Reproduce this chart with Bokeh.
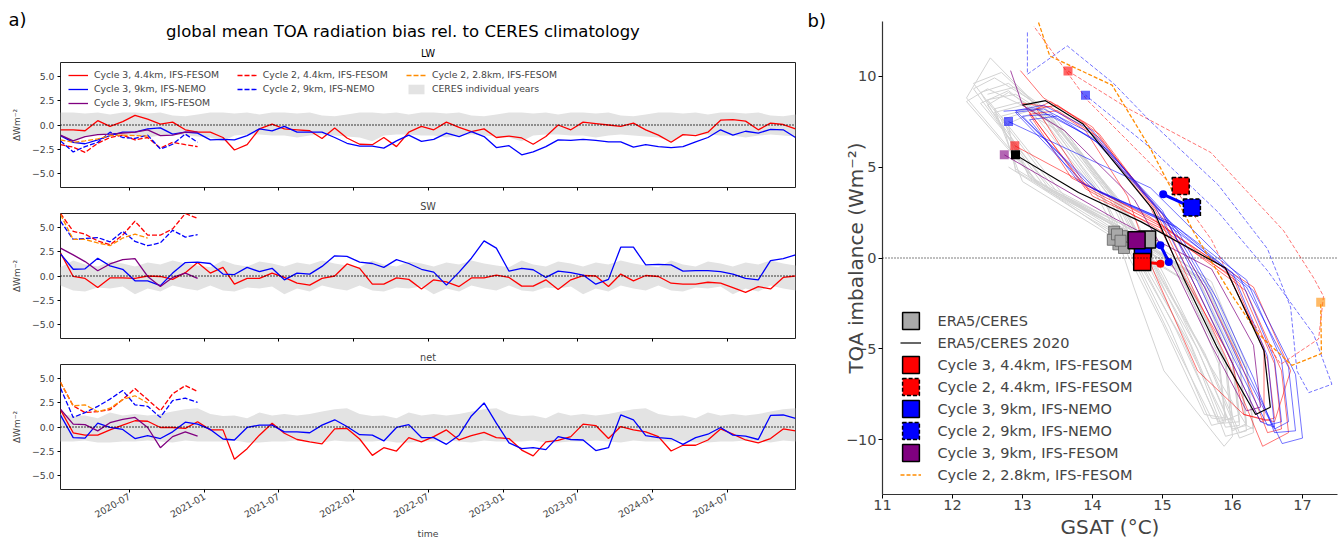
from datetime import datetime
from math import pi
from bokeh.plotting import figure
from bokeh.layouts import row, column
from bokeh.models import (Range1d, Span, Legend, LegendItem, MonthsTicker,
                          DatetimeTickFormatter, CustomJSTickFormatter, FixedTicker)
from bokeh.core.properties import value
from bokeh.embed import file_html
from bokeh.resources import INLINE

FONT = "DejaVu Sans"

# ---------------- left panel: monthly TOA bias time series ----------------
MONTHS = [datetime(2020 + k // 12, k % 12 + 1, 15) for k in range(60)]

LW_C3_44 = [-0.5, -0.5, -0.6, 0.45, -0.15, 0.35, 1.0, 0.6, 0.1, 0.3, -0.5, -0.75, -0.75, -1.3, -2.6, -2.05,
            -0.4, 0.1, -0.4, -0.5, -0.6, -1.4, -0.3, -1.35, -2.0, -2.05, -1.3, -2.25,
            -0.75, -0.15, -0.5, 0.3, -0.25, -0.7, -0.4, -1.3, -1.15, -1.35, -2.0, -1.2, 0.0, -0.5, 0.3, 0.15,
            0.0, -0.15, 0.2, -0.5, -1.05, -1.8, -1.0, -1.1, -0.75, 0.5, 0.55, 0.4, -0.5, 0.2, 0.05, -0.4]
LW_C3_9N = [-1.1, -1.8, -1.95, -1.55, -1.1, -0.75, -0.75, -0.4, -0.3, -0.95, -0.75, -0.85, -1.55, -1.5,
            -1.55, -1.1, -0.4, -0.6, -0.15, -0.75, -0.75, -0.75, -1.3, -1.9, -2.2, -2.2, -2.4, -1.65,
            -1.05, -1.7, -1.5, -0.85, -1.2, -0.7, -1.2, -2.35, -2.15, -3.1, -2.8, -2.25, -1.55, -1.6, -1.5,
            -1.6, -1.75, -1.75, -2.3, -2.05, -2.25, -2.35, -2.25, -1.75, -1.3, -0.5, -1.05, -0.65, -0.85,
            -0.45, -0.5, -1.3]
LW_C3_9F = [-1.05, -1.65, -1.2, -1.0, -0.95, -0.85, -0.75, -0.5, -1.1, -1.05, -0.75, -0.75]
LW_C2_44 = [-2.05, -2.3, -2.85, -1.9, -1.3, -1.05, -1.55, -1.3, -2.4, -1.8, -2.05, -2.25]
LW_C2_9N = [-1.65, -2.8, -2.25, -1.8, -0.75, -1.3, -1.4, -1.05, -2.5, -2.0, -0.95, -1.8]
LW_C2_28 = [-1.55, -1.8, -1.65, -1.45, -1.1, -1.05, -1.1, -1.15]

SW_C3_44 = [2.4, -0.05, -0.25, -1.2, -0.2, -0.2, -0.25, 0.0, -0.05, -0.35, 0.35, 1.4, 0.3, 0.9, -0.85, -0.25,
            -0.25, 0.3, -0.15, -0.75, -0.95, -0.25, 0.0, 1.25, 0.8, -0.85, -0.85, -0.2,
            -0.35, -1.35, -0.4, -0.6, -1.1, -0.2, -0.2, 0.1, -0.15, -1.05, -1.05, -0.4, -1.4, -0.4, 0.05,
            0.0, -1.1, 0.2, -0.5, 0.05, -0.05, -0.75, -0.85, -0.85, -0.65, -0.75, -1.2, -1.7, -1.1, -1.35,
            -0.15, 0.0]
SW_C3_9N = [2.3, 0.7, 0.75, 1.85, 1.05, 0.7, -0.5, -0.5, -1.0, 0.3, 1.4, 1.45, 1.3, 0.2, 0.15, 0.9, 0.45, 0.8,
            -0.4, 0.3, 0.2, 1.0, 2.1, 2.05, 1.45, 1.3, 0.9, 1.7,
            1.3, 0.7, 0.4, -0.95, 0.4, 1.85, 3.65, 2.9, 0.5, 0.8, 0.65, -0.15, 0.5, 0.35, 0.1, -0.85, -0.35,
            3.0, 3.0, 1.15, 1.2, 1.15, 0.5, 0.55, 0.55, 0.45, 0.2, -0.25, -0.4, 1.6, 1.8, 2.2]
SW_C3_9F = [2.9, 2.2, 1.5, 0.55, 1.25, 1.7, 1.8, -0.05, -1.1, -0.15, 0.3, -0.25]
SW_C2_44 = [6.5, 4.65, 4.35, 3.65, 3.25, 4.25, 5.7, 4.25, 4.25, 4.9, 6.5, 6.0]
SW_C2_9N = [5.7, 3.8, 3.9, 4.0, 3.55, 4.65, 3.6, 3.15, 3.45, 4.75, 4.05, 4.3]
SW_C2_28 = [6.4, 3.8, 3.8, 3.45, 3.15, 3.95, 4.35, 3.95]

NET_C3_44 = [1.8, -0.6, -0.85, -0.85, -0.3, 0.2, 0.65, 0.6, -0.05, -0.05, -0.15, 0.55, -0.3, -0.3, -3.35,
             -2.25, -0.85, 0.4, -0.65, -1.3, -1.55, -1.75, -0.2, -0.15, -1.25, -2.95, -2.15, -2.5,
             -1.1, -1.55, -1.0, -0.3, -1.35, -0.9, -0.55, -1.1, -1.2, -2.4, -3.0, -1.55, -1.4, -1.0, 0.3,
             0.15, -1.2, 0.05, -0.3, -0.5, -1.0, -2.5, -1.9, -1.9, -1.35, -0.2, -0.75, -1.35, -1.65, -1.2,
             -0.2, -0.4]
NET_C3_9N = [1.25, -1.1, -1.15, 0.4, -0.05, -0.25, -1.2, -0.9, -1.2, -0.5, 0.5, 0.3, -0.25, -1.25, -1.35,
             -0.05, 0.2, 0.2, -0.5, -0.5, -0.6, 0.2, 0.75, 0.05, -0.8, -0.85, -1.45, -0.05,
             0.25, -1.1, -1.1, -1.8, -0.85, 1.15, 2.5, 0.4, -1.65, -2.25, -2.15, -2.35, -1.0, -1.3, -1.35,
             -2.45, -2.15, 1.25, 0.75, -0.9, -1.1, -1.2, -1.8, -1.1, -0.75, -0.05, -0.85, -0.95, -1.3, 1.2,
             1.25, 0.9]
NET_C3_9F = [1.85, 0.3, 0.25, -0.4, 0.45, 0.8, 1.0, -0.05, -2.15, -1.0, -0.5, -0.95]
NET_C2_44 = [4.65, 2.2, 1.5, 1.6, 1.8, 2.85, 4.0, 2.85, 1.7, 3.45, 4.3, 3.7]
NET_C2_9N = [4.05, 1.0, 1.5, 2.15, 2.9, 3.8, 2.3, 2.15, 1.0, 2.75, 3.0, 2.55]
NET_C2_28 = [4.65, 2.2, 2.3, 1.6, 1.95, 2.85, 3.25, 2.5]

# CERES individual-year envelope (Jan..Dec), same every year
LW_HI = [1.3, 1.3, 1.2, 1.3, 1.1, 1.3, 1.3, 1.2, 1.3, 1.0, 0.9, 1.1]
LW_LO = [-1.3, -1.7, -1.1, -1.0, -1.0, -1.1, -1.1, -1.3, -1.1, -1.0, -1.1, -1.2]
SW_HI = [0.9, 1.6, 1.2, 1.0, 1.5, 1.3, 1.0, 1.4, 1.2, 1.6, 1.3, 1.1]
SW_LO = [-1.0, -1.5, -1.6, -1.2, -1.3, -1.1, -1.9, -1.3, -1.6, -1.0, -1.3, -1.5]
NET_HI = [1.35, 1.15, 1.2, 0.9, 1.5, 1.2, 1.35, 1.2, 1.35, 1.6, 1.85, 1.95]
NET_LO = [-1.5, -1.5, -1.4, -1.6, -1.6, -1.5, -1.5, -1.4, -1.5, -1.6, -1.4, -1.5]

BIAS_TICKS = [-5, -2.5, 0, 2.5, 5]

# ---------------- right panel: GSAT vs TOA imbalance ----------------
GREY_X = [[12.5, 12.9, 13.4, 14.3, 14.8, 15.3, 15.9, 16.1, 16.0, 15.5, 14.3, 13.3],
          [12.2, 12.54, 13.1, 14.1, 14.6, 15.1, 15.7, 15.9, 15.8, 15.3, 14.1, 13.0],
          [12.6, 13.0, 13.5, 14.4, 14.9, 15.5, 16.0, 16.2, 16.1, 15.6, 14.4, 13.4],
          [12.4, 12.8, 13.3, 14.2, 14.59, 15.02, 15.88, 16.0, 15.9, 15.4, 14.2, 13.1],
          [12.7, 13.1, 13.6, 14.5, 15.0, 15.6, 16.1, 16.3, 16.2, 15.7, 14.5, 13.5],
          [12.3, 12.7, 13.2, 14.2, 14.7, 15.2, 15.8, 16.0, 15.9, 15.3, 14.0, 12.9],
          [12.8, 13.1, 13.6, 14.6, 15.1, 15.6, 16.2, 16.3, 16.2, 15.7, 14.6, 13.6],
          [12.5, 12.9, 13.4, 14.3, 14.8, 15.4, 15.9, 16.2, 16.1, 15.5, 14.3, 13.2],
          [12.4, 12.8, 13.3, 14.3, 14.7, 15.3, 15.8, 16.1, 16.0, 15.4, 14.2, 13.1],
          [12.6, 13.0, 13.5, 14.4, 15.0, 15.5, 16.0, 16.2, 16.1, 15.6, 14.4, 13.3],
          [12.3, 12.6, 13.2, 14.1, 14.6, 15.1, 15.7, 16.0, 15.9, 15.3, 14.1, 12.9],
          [12.7, 13.1, 13.6, 14.5, 15.0, 15.6, 16.1, 16.3, 16.2, 15.6, 14.5, 13.4],
          [12.5, 12.8, 13.4, 14.4, 14.9, 15.4, 15.9, 16.1, 16.0, 15.5, 14.3, 13.2],
          [12.2, 12.5, 13.1, 14.0, 14.5, 15.0, 15.6, 15.9, 15.8, 15.2, 13.9, 12.8]]
GREY_Y = [[9.0, 9.4, 8.0, 3.4, -0.4, -4.3, -8.9, -8.6, -5.4, -1.0, 1.8, 3.8],
          [8.8, 11.0, 8.8, 3.8, 0.0, -3.8, -9.2, -9.0, -5.8, -1.2, 1.6, 4.2],
          [8.2, 8.6, 7.2, 2.8, -0.9, -5.0, -9.5, -9.1, -5.6, -1.0, 1.9, 3.9],
          [8.5, 9.2, 7.6, 3.0, -1.6, -6.2, -10.35, -9.8, -6.0, -1.4, 1.5, 4.4],
          [7.8, 8.2, 7.0, 2.5, -1.2, -5.2, -9.6, -9.3, -5.9, -1.3, 1.7, 3.6],
          [9.6, 10.2, 8.4, 3.6, -0.3, -4.0, -9.0, -8.8, -5.5, -0.8, 2.2, 4.8],
          [7.4, 7.9, 6.8, 2.2, -1.5, -5.4, -9.2, -9.4, -6.2, -1.6, 1.3, 3.4],
          [8.7, 9.0, 7.8, 3.1, -0.8, -4.8, -9.8, -9.5, -6.0, -1.1, 1.8, 4.1],
          [9.1, 9.6, 8.1, 3.3, -0.5, -4.6, -9.1, -9.0, -5.7, -1.0, 2.0, 4.5],
          [8.0, 8.4, 7.3, 2.9, -1.0, -5.0, -9.4, -9.2, -5.8, -1.2, 1.6, 4.0],
          [9.3, 9.9, 8.5, 3.6, -0.2, -4.2, -8.8, -8.9, -5.6, -0.9, 2.1, 4.9],
          [7.6, 8.1, 7.0, 2.4, -1.3, -5.3, -9.9, -9.6, -6.1, -1.5, 1.4, 3.7],
          [8.4, 9.1, 7.7, 3.0, -0.7, -4.7, -9.3, -9.2, -5.9, -1.1, 1.9, 4.2],
          [8.6, 9.3, 8.2, 3.9, 0.2, -3.6, -8.6, -8.8, -5.3, -0.6, 2.3, 5.0]]

ERA_2020_X = [13.0, 13.33, 13.87, 14.87, 15.3, 15.78, 16.33, 16.54, 16.45, 15.9, 14.69, 13.8, 12.9]
ERA_2020_Y = [8.4, 8.65, 7.35, 2.63, -1.1, -4.9, -8.6, -8.2, -5.1, -0.55, 2.0, 3.6, 5.67]

C3_44_X = [[12.97, 13.3, 13.9, 14.8, 15.3, 15.9, 16.4, 16.6, 16.5, 16.0, 14.8, 13.9],
           [13.1, 13.4, 14.0, 14.9, 15.4, 15.9, 16.43, 16.8, 16.7, 16.19, 15.0, 14.0],
           [13.2, 13.5, 14.1, 15.0, 15.5, 16.0, 16.16, 16.6, 16.83, 16.3, 15.0, 13.9],
           [13.0, 13.4, 13.9, 14.5, 14.87, 15.5, 16.16, 16.45, 16.45, 15.9, 14.8, 13.7],
           [13.1, 13.5, 14.1, 15.0, 15.6, 16.1, 16.5, 16.7, 16.6, 16.1, 15.0, 12.89]]
C3_44_Y = [[10.3, 8.8, 7.4, 3.0, -1.0, -5.0, -9.0, -8.8, -5.6, -1.0, 1.9, 3.8],
           [8.0, 8.6, 7.2, 2.6, -1.4, -5.4, -10.35, -9.6, -6.2, -1.8, 1.6, 3.4],
           [8.2, 8.4, 6.8, 2.2, -1.8, -5.8, -8.6, -9.0, -6.2, -1.6, 1.7, 3.9],
           [8.5, 8.3, 7.0, 3.4, -0.7, -6.2, -8.6, -8.9, -4.9, -0.6, 2.3, 4.4],
           [7.9, 8.1, 6.6, 2.4, -1.6, -5.6, -9.6, -9.4, -5.8, -1.4, 1.8, 6.17]]

C3_9N_X = [[12.73, 13.2, 14.0, 15.0, 15.6, 16.1, 16.6, 16.8, 16.7, 16.2, 15.1, 14.0],
           [13.0, 13.4, 14.1, 15.1, 15.7, 16.2, 16.71, 17.0, 16.9, 16.3, 15.2, 14.1],
           [12.9, 13.3, 14.0, 14.9, 15.4, 15.9, 16.4, 16.6, 16.5, 16.0, 14.9, 13.8],
           [13.1, 13.5, 14.2, 15.2, 15.8, 16.3, 16.6, 16.9, 16.8, 16.2, 15.1, 13.9],
           [12.9, 13.3, 14.0, 15.0, 15.5, 16.0, 16.5, 16.7, 16.6, 16.1, 14.83, 12.8]]
C3_9N_Y = [[8.07, 8.2, 6.6, 2.4, -1.6, -5.8, -9.4, -9.0, -5.6, -1.2, 2.0, 3.8],
           [7.8, 7.9, 6.3, 2.0, -2.0, -6.2, -10.2, -9.9, -6.4, -1.8, 1.7, 3.6],
           [8.1, 8.4, 7.0, 2.8, -1.0, -5.0, -9.0, -9.3, -5.4, -0.8, 2.3, 4.2],
           [7.6, 7.8, 6.0, 1.6, -2.4, -6.6, -9.6, -9.5, -6.0, -1.6, 1.9, 4.0],
           [8.0, 8.2, 6.8, 2.6, -1.3, -5.4, -9.2, -9.0, -5.6, -1.0, 3.85, 7.5]]

C3_9F_X = [12.83, 13.0, 13.6, 14.6, 15.2, 15.7, 16.2, 16.4, 16.3, 15.7, 14.3, 12.74]
C3_9F_Y = [10.3, 8.4, 7.0, 3.2, -0.8, -4.8, -8.4, -8.2, -4.8, -0.6, 2.2, 5.67]

C2_44_X = [13.65, 14.54, 15.69, 16.73, 17.16, 17.3, 17.23, 16.69, 16.2, 15.7, 15.16, 13.92, 13.16]
C2_44_Y = [10.28, 8.15, 5.8, 1.5, -1.1, -2.1, -4.45, -5.84, -3.0, 1.0, 3.9, 8.7, 12.75]

C2_9N_X = [13.07, 13.07, 13.64, 14.3, 14.83, 15.8, 16.5, 16.83, 16.92, 17.09, 17.42, 17.16, 16.5, 15.8,
           14.83, 13.9]
C2_9N_Y = [12.4, 10.1, 11.66, 9.6, 7.5, 4.0, 0.5, -2.7, -6.2, -7.4, -6.94, -4.2, -0.7, 2.5, 6.05, 8.95]

C2_28_X = [13.12, 13.39, 14.28, 14.83, 15.45, 15.95, 16.35, 16.85, 17.27, 17.26]
C2_28_Y = [14.2, 11.1, 9.5, 6.0, 1.4, -1.8, -4.1, -5.9, -5.25, -2.43]

# annual means
ERA_YEARS_X = [14.31, 14.37, 14.42, 14.29, 14.45, 14.35, 14.40]
ERA_YEARS_Y = [1.45, 0.75, 1.2, 1.0, 0.55, 1.3, 0.95]
ERA_MEAN = (14.78, 1.02)
C3_44_MEAN_X = [14.97, 14.71]
C3_44_MEAN_Y = [-0.31, -0.22]
C3_9N_MEAN_X = [15.09, 14.97, 14.72]
C3_9N_MEAN_Y = [-0.22, 0.7, 0.52]
C2_9N_MEAN_X = [15.01, 15.42]
C2_9N_MEAN_Y = [3.5, 2.78]
C2_44_MEAN = (15.26, 3.96)
C3_9F_MEAN = (14.63, 0.98)

GSAT_TICKS = [11, 12, 13, 14, 15, 16, 17]
TOA_TICKS = [-10, -5, 0, 5, 10]


def flat(loops):
    return [v for loop in loops for v in loop]


def minus_fmt(dec):
    return CustomJSTickFormatter(
        code="return (tick < 0 ? '\u2212' : '') + Math.abs(tick).toFixed(%d);" % dec)


def style_legend(leg, fs, gw, gh, standoff, spacing):
    leg.label_text_font = FONT
    leg.label_text_font_size = fs
    leg.glyph_width = gw
    leg.glyph_height = gh
    leg.label_height = gh
    leg.label_standoff = standoff
    leg.spacing = spacing
    leg.padding = 0
    leg.margin = 0
    leg.border_line_alpha = 0
    leg.background_fill_alpha = 0


SMALL = "9.3px"
DASH = "5 2"

# ---------------- header: panel letters, overall title and the LW title ----------------
head = figure(width=840, height=62, title=None, x_range=Range1d(0, 840), y_range=Range1d(62, 0),
              output_backend="svg", toolbar_location=None, x_axis_location=None,
              y_axis_location=None, min_border=0, min_border_left=0, min_border_right=0,
              min_border_top=0, min_border_bottom=0)
head.outline_line_color = None
head.grid.visible = False
head.text(x=[8, 807], y=[18.5, 20.0], text=["a)", "b)"], text_font=value(FONT),
          text_font_size="18px", text_baseline="middle", text_align="left")
head.text(x=[402.5], y=[31.0], text=["global mean TOA radiation bias rel. to CERES climatology"],
          text_font=value(FONT), text_font_size="16.5px", text_baseline="middle",
          text_align="center")
head.text(x=[427.5], y=[52.5], text=["LW"], text_font=value(FONT), text_font_size="9.7px",
          text_baseline="middle", text_align="center")

xr = Range1d(MONTHS[0], MONTHS[-1])


def make_panel(title, height, top, bottom, c3_44, c3_9n, c3_9f, c2_44, c2_9n, c2_28, hi, lo, last):
    p = figure(width=840, height=height, x_axis_type="datetime", x_range=xr,
               y_range=Range1d(-6.5, 6.5), output_backend="svg", toolbar_location=None,
               min_border_left=60, min_border_right=45, min_border_top=top, min_border_bottom=bottom,
               title=title)
    if title is not None:
        p.title.align = "center"
        p.title.text_font = FONT
        p.title.text_font_size = "9.7px"
        p.title.text_font_style = "normal"
        p.title.standoff = 4
    p.grid.visible = False
    p.outline_line_color = "#222222"
    p.outline_line_width = 1
    p.axis.axis_line_color = None
    p.axis.major_tick_out = 3
    p.axis.major_tick_in = 0
    p.axis.minor_tick_line_color = None
    p.axis.major_label_text_font = FONT
    p.axis.major_label_text_font_size = SMALL
    p.yaxis.major_label_standoff = 3
    p.yaxis.ticker = FixedTicker(ticks=BIAS_TICKS)
    p.yaxis.formatter = minus_fmt(1)
    p.yaxis.axis_label = "\u0394Wm\u207b\u00b2"
    p.yaxis.axis_label_text_font = FONT
    p.yaxis.axis_label_text_font_size = "9px"
    p.yaxis.axis_label_text_font_style = "normal"
    p.yaxis.axis_label_standoff = 7
    p.xaxis.ticker = MonthsTicker(months=[0, 6])
    p.xaxis.formatter = DatetimeTickFormatter(months="%Y-%m", years="%Y-%m", days="%Y-%m")
    if last:
        p.xaxis.major_label_orientation = pi / 6
        p.xaxis.major_label_standoff = 3
        p.xaxis.axis_label = "time"
        p.xaxis.axis_label_text_font = FONT
        p.xaxis.axis_label_text_font_size = SMALL
        p.xaxis.axis_label_text_font_style = "normal"
        p.xaxis.axis_label_standoff = 4
    else:
        p.xaxis.major_label_text_font_size = "0px"
        p.xaxis.major_label_text_color = None
        p.xaxis.major_label_text_alpha = 0
        p.xaxis.major_label_standoff = 0

    band = p.varea(x=MONTHS, y1=lo * 5, y2=hi * 5, fill_color="#e3e3e3")
    p.add_layout(Span(location=0, dimension="width", line_color="black", line_dash="1 2",
                      line_width=1.3))
    r1 = p.line(MONTHS, c3_44, line_color="red", line_width=1.3)
    r2 = p.line(MONTHS, c3_9n, line_color="blue", line_width=1.3)
    r3 = p.line(MONTHS[:len(c3_9f)], c3_9f, line_color="purple", line_width=1.3)
    r4 = p.line(MONTHS[:len(c2_44)], c2_44, line_color="red", line_width=1.3, line_dash=DASH)
    r5 = p.line(MONTHS[:len(c2_9n)], c2_9n, line_color="blue", line_width=1.3, line_dash=DASH)
    r6 = p.line(MONTHS[:len(c2_28)], c2_28, line_color="darkorange", line_width=1.3, line_dash=DASH)
    return p, (r1, r2, r3, r4, r5, r6, band)


p1, rs = make_panel(None, 129, 0, 4, LW_C3_44, LW_C3_9N, LW_C3_9F, LW_C2_44, LW_C2_9N, LW_C2_28,
                    LW_HI, LW_LO, False)
p2, _ = make_panel("SW", 151, 22, 4, SW_C3_44, SW_C3_9N, SW_C3_9F, SW_C2_44, SW_C2_9N, SW_C2_28,
                   SW_HI, SW_LO, False)
p3, _ = make_panel("net", 202, 22, 55, NET_C3_44, NET_C3_9N, NET_C3_9F, NET_C2_44, NET_C2_9N, NET_C2_28,
                   NET_HI, NET_LO, True)

r1, r2, r3, r4, r5, r6, band = rs
leg_a = Legend(items=[LegendItem(label="Cycle 3, 4.4km, IFS-FESOM", renderers=[r1]),
                      LegendItem(label="Cycle 3, 9km, IFS-NEMO", renderers=[r2]),
                      LegendItem(label="Cycle 3, 9km, IFS-FESOM", renderers=[r3])],
               location=(8, 78.3))
leg_b = Legend(items=[LegendItem(label="Cycle 2, 4.4km, IFS-FESOM", renderers=[r4]),
                      LegendItem(label="Cycle 2, 9km, IFS-NEMO", renderers=[r5])],
               location=(176.7, 92.3))
leg_c = Legend(items=[LegendItem(label="Cycle 2, 2.8km, IFS-FESOM", renderers=[r6]),
                      LegendItem(label="CERES individual years", renderers=[band])],
               location=(346, 92.3))
for lg in (leg_a, leg_b, leg_c):
    style_legend(lg, SMALL, 20, 12, 6, 2)
    p1.add_layout(lg, "center")

# ---------------- right panel ----------------
q = figure(width=501, height=544, x_range=Range1d(11, 17.5), y_range=Range1d(-13, 13),
           output_backend="svg", toolbar_location=None,
           min_border_left=42, min_border_right=4, min_border_top=21, min_border_bottom=50)
q.outline_line_color = None
q.grid.visible = False
q.axis.axis_line_color = "#333333"
q.axis.axis_line_width = 1.2
q.axis.major_tick_out = 4
q.axis.major_tick_in = 0
q.axis.minor_tick_line_color = None
q.axis.major_label_text_font = FONT
q.axis.major_label_text_font_size = "14.5px"
q.xaxis.ticker = FixedTicker(ticks=GSAT_TICKS)
q.yaxis.ticker = FixedTicker(ticks=TOA_TICKS)
q.yaxis.formatter = minus_fmt(0)
q.xaxis.major_label_standoff = 1
q.yaxis.major_label_standoff = 2
q.xaxis.axis_label = "GSAT (\u00b0C)"
q.yaxis.axis_label = "TOA imbalance (Wm\u207b\u00b2)"
q.axis.axis_label_text_font = FONT
q.axis.axis_label_text_font_size = "20px"
q.axis.axis_label_text_font_style = "normal"
q.xaxis.axis_label_standoff = 2
q.yaxis.axis_label_standoff = -25

q.add_layout(Span(location=0, dimension="width", line_color="black", line_dash="1 2", line_width=1.2))

q.line(flat(GREY_X), flat(GREY_Y), line_color="#d3d3d3", line_width=1)
q.line(flat(C3_44_X), flat(C3_44_Y), line_color="red", line_alpha=0.55, line_width=1)
q.line(flat(C3_9N_X), flat(C3_9N_Y), line_color="blue", line_alpha=0.55, line_width=1)
q.line(C3_9F_X, C3_9F_Y, line_color="purple", line_alpha=0.7, line_width=1)
q.line(C2_44_X, C2_44_Y, line_color="red", line_alpha=0.55, line_width=1, line_dash="4 2")
q.line(C2_9N_X, C2_9N_Y, line_color="blue", line_alpha=0.55, line_width=1, line_dash="4 2")
r_or = q.line(C2_28_X, C2_28_Y, line_color="darkorange", line_width=1.3, line_dash="4 2")
r_blk = q.line(ERA_2020_X, ERA_2020_Y, line_color="black", line_width=1.2)

# small squares marking the end / start months
q.scatter([flat(C3_44_X)[-1]], [flat(C3_44_Y)[-1]], marker="square", size=9, fill_color="red",
          fill_alpha=0.6, line_alpha=0)
q.scatter([flat(C3_9N_X)[-1]], [flat(C3_9N_Y)[-1]], marker="square", size=9, fill_color="blue",
          fill_alpha=0.6, line_alpha=0)
q.scatter([C3_9F_X[-1]], [C3_9F_Y[-1]], marker="square", size=9, fill_color="purple",
          fill_alpha=0.6, line_alpha=0)
q.scatter([C2_44_X[0]], [C2_44_Y[0]], marker="square", size=9, fill_color="red",
          fill_alpha=0.6, line_alpha=0)
q.scatter([C2_9N_X[-1]], [C2_9N_Y[-1]], marker="square", size=9, fill_color="blue",
          fill_alpha=0.6, line_alpha=0)
q.scatter([C2_28_X[-1]], [C2_28_Y[-1]], marker="square", size=9, fill_color="darkorange",
          fill_alpha=0.6, line_alpha=0)
q.scatter([ERA_2020_X[-1]], [ERA_2020_Y[-1]], marker="square", size=9, fill_color="black",
          line_alpha=0)

# annual-mean tracks
q.line(C2_9N_MEAN_X, C2_9N_MEAN_Y, line_color="blue", line_width=3)
q.scatter(C2_9N_MEAN_X[:1], C2_9N_MEAN_Y[:1], marker="circle", size=8, fill_color="blue", line_alpha=0)
q.line(C3_9N_MEAN_X, C3_9N_MEAN_Y, line_color="blue", line_width=3)
q.scatter(C3_9N_MEAN_X[:2], C3_9N_MEAN_Y[:2], marker="circle", size=8, fill_color="blue", line_alpha=0)
q.line(C3_44_MEAN_X, C3_44_MEAN_Y, line_color="red", line_width=3)
q.scatter(C3_44_MEAN_X[:1], C3_44_MEAN_Y[:1], marker="circle", size=8, fill_color="red", line_alpha=0)

q.rect(ERA_YEARS_X, ERA_YEARS_Y, width=11, height=11, width_units="screen", height_units="screen",
       fill_color="#a9a9a9", line_color="#555555", line_width=0.7)

SQ = dict(width=17, height=17, width_units="screen", height_units="screen", line_color="black",
          line_width=1.5)
g_c244 = q.rect([C2_44_MEAN[0]], [C2_44_MEAN[1]], fill_color="red", line_dash="4 2", **SQ)
g_c29n = q.rect([C2_9N_MEAN_X[-1]], [C2_9N_MEAN_Y[-1]], fill_color="blue", line_dash="4 2", **SQ)
g_c39n = q.rect([C3_9N_MEAN_X[-1]], [C3_9N_MEAN_Y[-1]], fill_color="blue", **SQ)
g_c344 = q.rect([C3_44_MEAN_X[-1]], [C3_44_MEAN_Y[-1]], fill_color="red", **SQ)
g_era = q.rect([ERA_MEAN[0]], [ERA_MEAN[1]], fill_color="#a9a9a9", **SQ)
g_c39f = q.rect([C3_9F_MEAN[0]], [C3_9F_MEAN[1]], fill_color="purple", **SQ)

leg_r = Legend(items=[LegendItem(label="ERA5/CERES", renderers=[g_era]),
                      LegendItem(label="ERA5/CERES 2020", renderers=[r_blk]),
                      LegendItem(label="Cycle 3, 4.4km, IFS-FESOM", renderers=[g_c344]),
                      LegendItem(label="Cycle 2, 4.4km, IFS-FESOM", renderers=[g_c244]),
                      LegendItem(label="Cycle 3, 9km, IFS-NEMO", renderers=[g_c39n]),
                      LegendItem(label="Cycle 2, 9km, IFS-NEMO", renderers=[g_c29n]),
                      LegendItem(label="Cycle 3, 9km, IFS-FESOM", renderers=[g_c39f]),
                      LegendItem(label="Cycle 2, 2.8km, IFS-FESOM", renderers=[r_or])],
               location=(17.5, 9))
style_legend(leg_r, "14.5px", 21, 21, 17, 1)
q.add_layout(leg_r, "center")

left = column(head, column(p1, p2, p3))
layout = row(left, q)
open("out.html", "w").write(file_html(layout, INLINE))
